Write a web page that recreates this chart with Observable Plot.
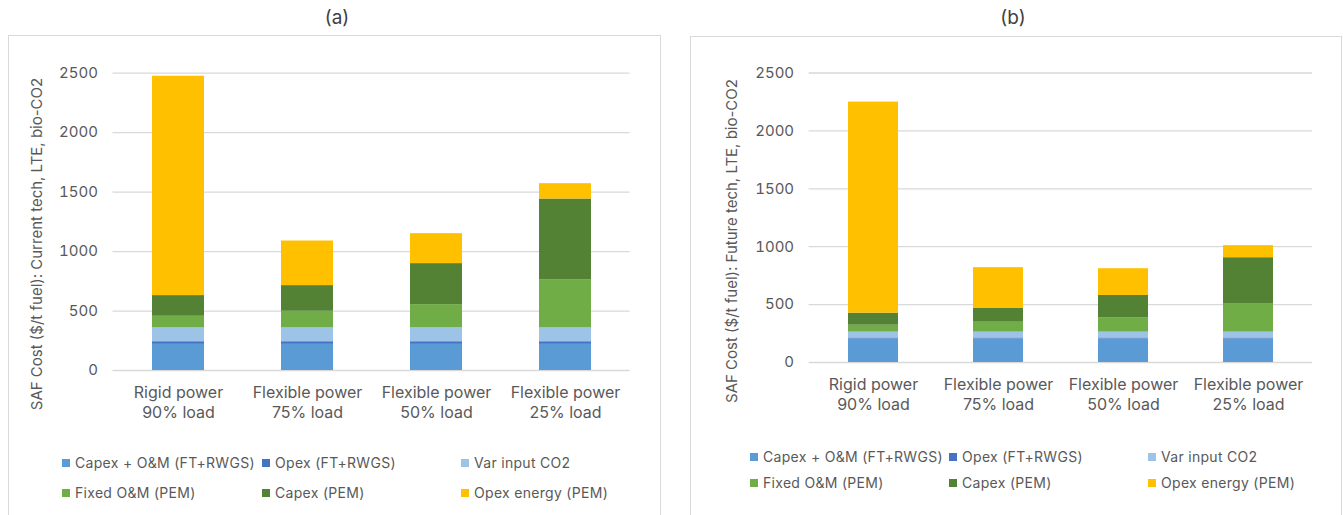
<!DOCTYPE html>
<html><head><meta charset="utf-8">
<script src="https://cdn.jsdelivr.net/npm/d3@7"></script>
<script src="https://cdn.jsdelivr.net/npm/@observablehq/plot@0.6"></script>
<style>
body{margin:0;background:#fff;font-family:Inter,Roboto,sans-serif;}
#root{position:relative;width:1343px;height:515px;overflow:hidden;background:#fff;}
.box{position:absolute;border:1.5px solid #d9d9d9;box-sizing:border-box;}
.title{position:absolute;font-size:19px;line-height:22px;color:#404040;transform:translate(-50%,-50%);white-space:nowrap;}
.ylab{position:absolute;font-size:15px;line-height:18px;color:#595959;white-space:nowrap;transform:translate(-50%,-50%) rotate(-90deg);}
.leg{position:absolute;font-size:14px;line-height:18px;letter-spacing:0.3px;color:#595959;white-space:nowrap;display:flex;align-items:center;transform:translateY(-50%);}
.leg i{display:inline-block;width:8px;height:8px;margin-right:5px;}
.panel{position:absolute;top:0;}
</style></head>
<body>
<div id="root"></div>
<script>
const categories = ["Rigid power\n90% load","Flexible power\n75% load","Flexible power\n50% load","Flexible power\n25% load"];
const seriesNames = ["Capex + O&M (FT+RWGS)","Opex (FT+RWGS)","Var input CO2","Fixed O&M (PEM)","Capex (PEM)","Opex energy (PEM)"];
const seriesColors = ["#5B9BD5","#4472C4","#9DC3E6","#70AD47","#548235","#FFC000"];
const yTicks = [0,500,1000,1500,2000,2500];
const panelTitles = ["(a)","(b)"];
const yLabels = ["SAF Cost ($/t fuel): Current tech, LTE, bio-CO2","SAF Cost ($/t fuel): Future tech, LTE, bio-CO2"];

// Panel (a): current tech
const capexOM_a    = [220,220,220,220];
const opexFT_a     = [22,22,22,22];
const varCO2_a     = [116,116,116,116];
const fixedOM_a    = [98,140,196,406];
const capexPEM_a   = [174,216,345,678];
const opexEnergy_a = [1844,375,252,129];

// Panel (b): future tech
const capexOM_b    = [203,203,203,203];
const opexFT_b     = [9,9,9,9];
const varCO2_b     = [50,50,50,50];
const fixedOM_b    = [60,86,122,247];
const capexPEM_b   = [104,122,195,396];
const opexEnergy_b = [1823,349,231,104];

const root = document.getElementById("root");

function el(tag, cls, style, text){
  const e = document.createElement(tag);
  if (cls) e.className = cls;
  Object.assign(e.style, style);
  if (text != null) e.textContent = text;
  root.appendChild(e);
  return e;
}

function panel(values, opts){
  const rows = [];
  seriesNames.forEach((s,i) => categories.forEach((c,j) => rows.push({cat:c, series:s, value:values[i][j]})));
  const svg = Plot.plot({
    width: opts.width, height: opts.height,
    marginLeft: opts.marginLeft, marginRight: opts.marginRight,
    marginTop: opts.marginTop, marginBottom: opts.marginBottom,
    style: {fontFamily: "Inter, Roboto, sans-serif", background: "transparent", overflow: "visible"},
    x: {domain: categories, paddingInner: 0.6, paddingOuter: 0.3},
    y: {domain: [0, 2500]},
    color: {domain: seriesNames, range: seriesColors},
    marks: [
      Plot.gridY(yTicks, {stroke: "#d9d9d9", strokeOpacity: 1, strokeWidth: 1.3}),
      Plot.barY(rows, {x: "cat", y: "value", fill: "series", z: "series", order: seriesNames}),
      Plot.axisY(yTicks, {tickSize: 0, tickPadding: 15, fontSize: 15, fill: "#595959", label: null, tickFormat: d => String(d)}),
      Plot.axisX({tickSize: 0, tickPadding: 13, fontSize: 16, fill: "#595959", lineHeight: 1.25, label: null, tickFormat: d => d})
    ]
  });
  svg.classList.add("panel");
  svg.style.left = opts.left + "px";
  root.appendChild(svg);
}

// boxes
el("div","box",{left:"8px",top:"35px",width:"653px",height:"500px"});
el("div","box",{left:"690px",top:"36px",width:"652px",height:"500px"});

// titles
el("div","title",{left:"337px",top:"18px"},panelTitles[0]);
el("div","title",{left:"1013px",top:"18px"},panelTitles[1]);

panel([capexOM_a,opexFT_a,varCO2_a,fixedOM_a,capexPEM_a,opexEnergy_a],
  {left:0,width:660,height:440,marginLeft:112.5,marginRight:30.4,marginTop:72.7,marginBottom:70});
panel([capexOM_b,opexFT_b,varCO2_b,fixedOM_b,capexPEM_b,opexEnergy_b],
  {left:680,width:660,height:440,marginLeft:128.6,marginRight:28,marginTop:72.5,marginBottom:78});

// y labels
el("div","ylab",{left:"37px",top:"244px"},yLabels[0]);
el("div","ylab",{left:"732px",top:"241px"},yLabels[1]);

// legends
function legend(xs, ys){
  seriesNames.forEach((s,i) => {
    const d = el("div","leg",{left:xs[i%3]+"px",top:ys[Math.floor(i/3)]+"px"});
    const sw = document.createElement("i");
    sw.style.background = seriesColors[i];
    d.appendChild(sw);
    d.appendChild(document.createTextNode(s));
  });
}
legend([62,262,461],[463,493]);
legend([750,949,1148],[457,483]);
</script>
</body></html>
